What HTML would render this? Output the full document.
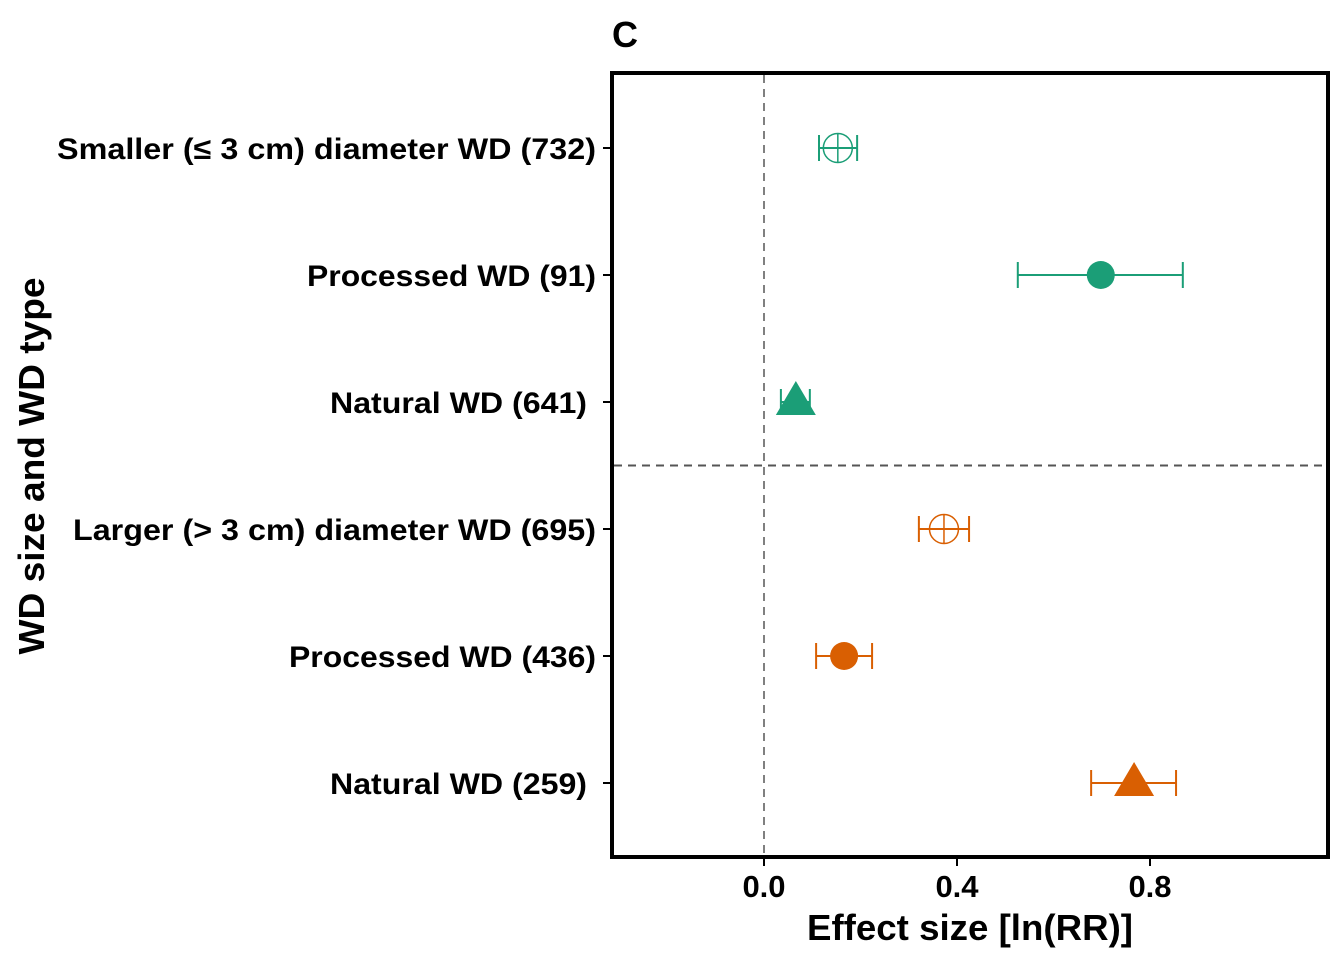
<!DOCTYPE html>
<html><head><meta charset="utf-8"><style>
html,body{margin:0;padding:0;background:#fff;}
svg{display:block;font-family:"Liberation Sans",Arial,sans-serif;}
</style></head><body>
<svg id="chart" width="1344" height="960" viewBox="0 0 1344 960">
<text x="612" y="47" font-size="36" font-weight="bold">C</text>
<rect x="612" y="73" width="716" height="784" fill="none" stroke="#000" stroke-width="4"/>
<g id="marks"></g>
<text x="970" y="940" font-size="36" font-weight="bold" text-anchor="middle" textLength="326" lengthAdjust="spacingAndGlyphs">Effect size [ln(RR)]</text>
<text transform="translate(44,466) rotate(-90)" font-size="36" font-weight="bold" text-anchor="middle" textLength="377" lengthAdjust="spacingAndGlyphs">WD size and WD type</text>
</svg>
<script>
const labels = ["Smaller (≤ 3 cm) diameter WD (732)","Processed WD (91)","Natural WD (641)","Larger (> 3 cm) diameter WD (695)","Processed WD (436)","Natural WD (259)"];
const estimates = [0.153,0.698,0.066,0.373,0.166,0.767];
const lower = [0.114,0.526,0.035,0.321,0.108,0.678];
const upper = [0.193,0.868,0.095,0.425,0.224,0.854];
const shapes = ["crosscircle","circle","triangle","crosscircle","circle","triangle"];
const groups = ["small","small","small","large","large","large"];
const xTicks = [0.0,0.4,0.8];
const xTickLabels = ["0.0","0.4","0.8"];
const labelWidths = [539,289,257,523,307,257];
const labelRight = [596,596,587,596,596,587];

const NS="http://www.w3.org/2000/svg";
const g=document.getElementById('marks');
const xs=v=>764+v*482.5;
const ys=i=>148+i*127;
const col={small:"#1b9e77",large:"#d95f02"};
function mk(t,a){const e=document.createElementNS(NS,t);for(const k in a)e.setAttribute(k,a[k]);g.appendChild(e);return e;}

let e=mk('line',{x1:xs(0),x2:xs(0),y1:75,y2:855,stroke:"#808080","stroke-width":2,"stroke-dasharray":"8,6"});


e=mk('line',{x1:614,x2:1326,y1:(ys(2)+ys(3))/2,y2:(ys(2)+ys(3))/2,stroke:"#555","stroke-width":2,"stroke-dasharray":"8,6"});



xTicks.forEach((v,i)=>{
  e=mk('line',{x1:xs(v),x2:xs(v),y1:857,y2:866,stroke:"#000","stroke-width":2});
  
  
  e=mk('text',{x:xs(v),y:897,"font-size":31,"font-weight":"bold","text-anchor":"middle"});
  e.textContent=xTickLabels[i];
  
  
});

labels.forEach((l,i)=>{
  const y=ys(i),c=col[groups[i]],cx=xs(estimates[i]);
  e=mk('line',{x1:603,x2:612,y1:y,y2:y,stroke:"#000","stroke-width":2});
  
  
  e=mk('text',{x:labelRight[i]-labelWidths[i],y:y+11,"font-size":30,"font-weight":"bold",textLength:labelWidths[i],lengthAdjust:"spacingAndGlyphs"});
  e.textContent=l;
  
  
  const x1=xs(lower[i]),x2=xs(upper[i]);
  e=mk('path',{d:`M${x1},${y}H${x2}M${x1},${y-13}V${y+13}M${x2},${y-13}V${y+13}`,stroke:c,"stroke-width":2,fill:"none"});
  
  
  if(shapes[i]==="crosscircle"){
    e=mk('path',{d:`M${cx-14.5},${y}a14.5,14.5 0 1,0 29,0a14.5,14.5 0 1,0 -29,0M${cx},${y-14.5}V${y+14.5}`,stroke:c,"stroke-width":1.5,fill:"none"});
  }else if(shapes[i]==="circle"){
    e=mk('circle',{cx:cx,cy:y,r:14,fill:c});
  }else{
    e=mk('polygon',{points:`${cx},${y-21} ${cx-20},${y+13} ${cx+20},${y+13}`,fill:c});
  }
  
  
});
</script>
</body></html>
